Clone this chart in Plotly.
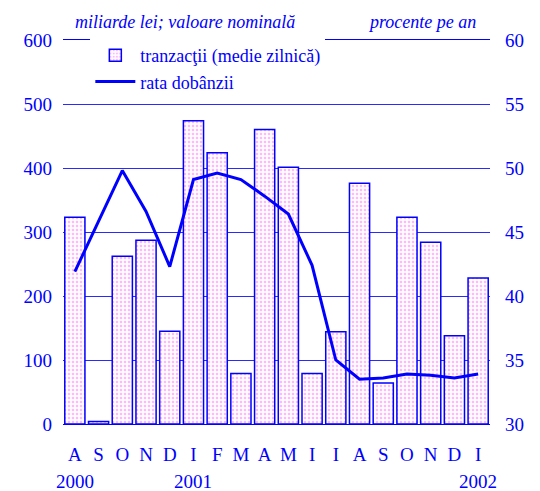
import plotly.graph_objects as go

months = ["A", "S", "O", "N", "D", "I", "F", "M", "A", "M", "I", "I", "A", "S", "O", "N", "D", "I"]
years = ["2000", "2001", "2002"]
year_pos = [0, 5, 17]
tranzactii = [323, 4, 262, 287, 145, 474, 424, 79, 460, 401, 79, 144, 376, 64, 323, 284, 138, 228]
rata = [41.9, 45.8, 49.8, 46.6, 42.3, 49.1, 49.6, 49.1, 47.8, 46.4, 42.4, 35.0, 33.5, 33.6, 33.9, 33.8, 33.6, 33.9]
left_ticks = [0, 100, 200, 300, 400, 500, 600]
right_ticks = [30, 35, 40, 45, 50, 55, 60]

BLUE = "#0000ff"
FONT = "Liberation Serif"
xs = list(range(len(months)))

fig = go.Figure()
fig.add_trace(go.Bar(
    x=xs, y=tranzactii, name="tranzacţii (medie zilnică)",
    marker=dict(color="white", line=dict(color=BLUE, width=1.5),
                pattern=dict(shape=".", fgcolor="#ff70ff", bgcolor="white", size=4, solidity=0.35)),
))
fig.add_trace(go.Scatter(
    x=xs, y=rata, name="rata dobânzii", yaxis="y2", mode="lines",
    line=dict(color=BLUE, width=3),
))

# page body has an 8px margin, so the figure is sized/offset to compensate
fig.update_layout(
    width=532, height=483,
    margin=dict(l=55, r=50, t=32, b=67),
    paper_bgcolor="white", plot_bgcolor="white",
    font=dict(family=FONT, color=BLUE, size=19),
    bargap=0.15,
    showlegend=True,
    legend=dict(x=0.064, y=1.008, xanchor="left", yanchor="top", bgcolor="white",
                font=dict(size=18, family=FONT, color=BLUE), itemwidth=40,
                tracegroupgap=0, borderwidth=0),
    xaxis=dict(range=[-0.5, 17.5], tickvals=xs, ticktext=months, showgrid=False,
               showline=True, mirror=True, linecolor=BLUE, linewidth=1.3, ticks="",
               ticklabelstandoff=13, tickfont=dict(size=19), zeroline=False),
    yaxis=dict(range=[0, 600], tickvals=left_ticks, showgrid=True, gridcolor="#2a2aff",
               gridwidth=1, ticks="", ticklabelstandoff=10, zeroline=False, showline=False),
    yaxis2=dict(range=[30, 60], tickvals=right_ticks, overlaying="y", side="right",
                showgrid=False, ticks="", ticklabelstandoff=14, zeroline=False, showline=False),
)

for yr, pos in zip(years, year_pos):
    fig.add_annotation(x=pos, y=-0.151, xref="x", yref="paper", text=yr, showarrow=False,
                       font=dict(size=19, family=FONT, color=BLUE), yanchor="middle")

fig.add_annotation(x=0.023, y=1.047, xref="paper", yref="paper", xanchor="left", yanchor="middle",
                   text="<i>miliarde lei; valoare nominală</i>", showarrow=False,
                   font=dict(size=18, family=FONT, color=BLUE))
fig.add_annotation(x=0.972, y=1.047, xref="paper", yref="paper", xanchor="right", yanchor="middle",
                   text="<i>procente pe an</i>", showarrow=False,
                   font=dict(size=18, family=FONT, color=BLUE))

fig.write_html("out.html")
